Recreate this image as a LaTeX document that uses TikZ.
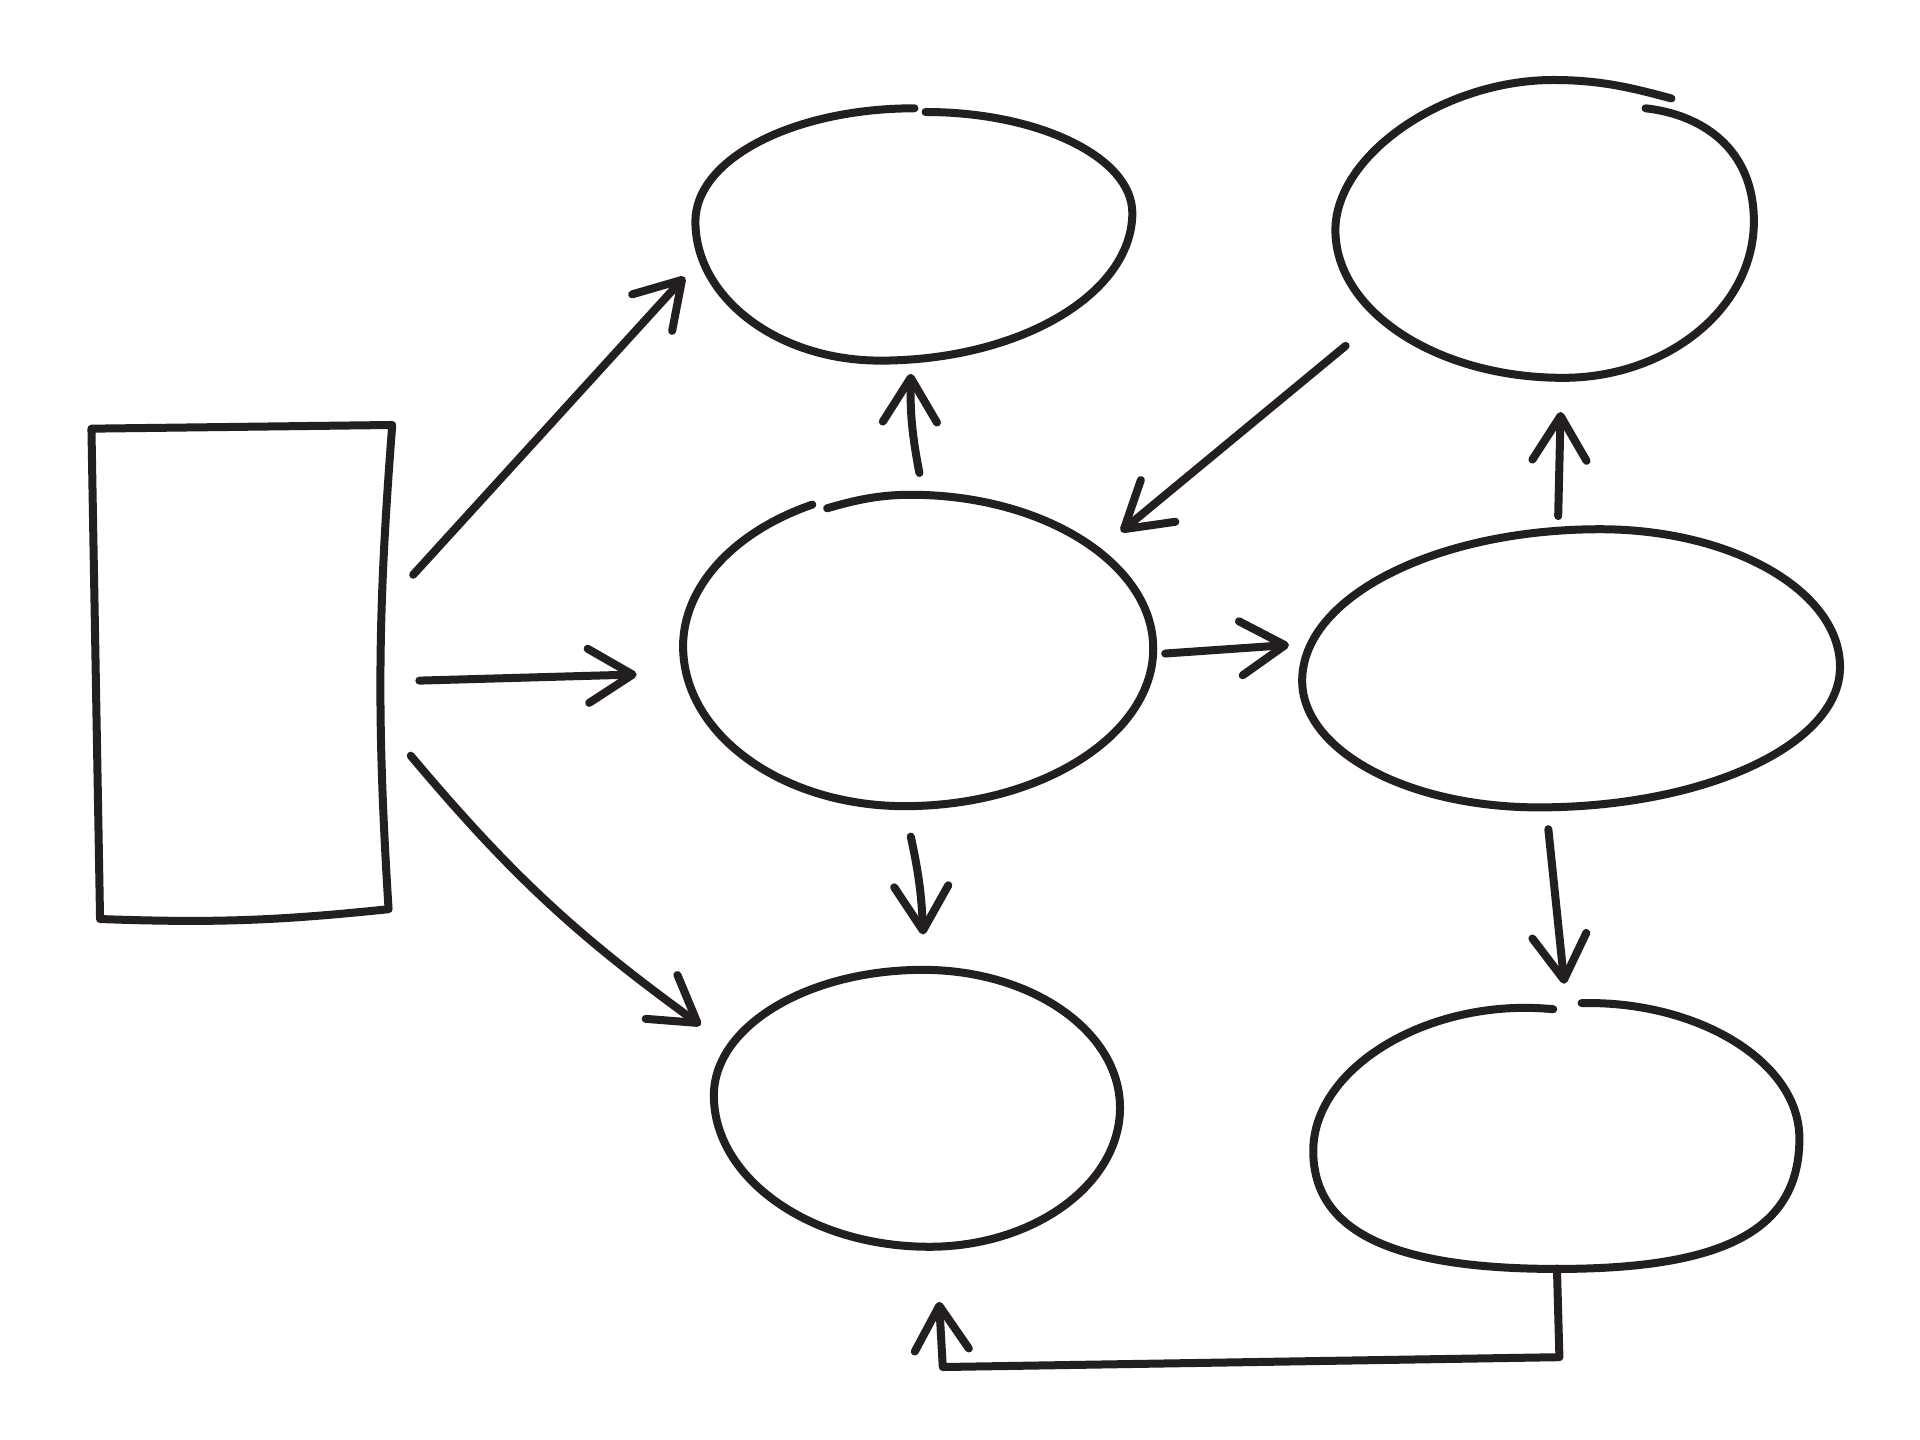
\documentclass[tikz,border=0pt]{standalone}
\usetikzlibrary{shapes.geometric,arrows.meta}
\definecolor{ink}{HTML}{231F20}
\tikzset{
  pen/.style  = {draw=ink, line width=1.85pt, line cap=round, line join=round},
  spot/.style = {ellipse, inner sep=0pt},
  arr/.style  = {pen, -{Straight Barb[length=3.6mm,width=4.4mm,round]}}
}

\begin{document}
\begin{tikzpicture}
  \path[fill=white] (0,0) rectangle (15.6,-11.7);
  \node[minimum width=2.43cm, minimum height=4cm, inner sep=0pt] (source) at (1.965,-5.46) {};
  \node[spot, minimum width=3.56cm, minimum height=2.10cm] (upper)  at (7.44,-1.90)    {};
  \node[spot, minimum width=3.82cm, minimum height=2.55cm] (hub)    at (7.46,-5.275)   {};
  \node[spot, minimum width=3.30cm, minimum height=2.22cm] (lower)  at (7.45,-9.01)    {};
  \node[spot, minimum width=3.45cm, minimum height=2.45cm] (corner) at (12.60,-1.875)  {};
  \node[spot, minimum width=4.37cm, minimum height=2.25cm] (outer)  at (12.765,-5.425) {};
  \node[spot, minimum width=3.94cm, minimum height=2.20cm] (back)   at (12.65,-9.20)   {};

  \draw[pen] ([yshift=-0.3mm]source.north west) -- (source.north east)
    to[bend right=4] ([shift={(-0.03,0.08)}]source.south east)
    to[bend left=4] ([xshift=0.7mm]source.south west) -- cycle;
  \draw[pen, shift={(upper.center)}] (-0.01,1.02)
    .. controls +(-0.98,0) and +(0,0.51) .. (-1.79,0.10)
    .. controls +(0,-0.62) and +(-0.83,0) .. (-0.29,-1.03)
    .. controls +(1.13,0) and +(0,-0.66) .. (1.76,0.17)
    .. controls +(0,0.45) and +(0.92,0) .. (0.08,0.99);
  \draw[pen, shift={(hub.center)}] (-0.74,1.145)
    .. controls +(0.24,0.07) and +(-0.25,0) .. (-0.06,1.255)
    .. controls +(1.08,0) and +(0,0.69) .. (1.91,0.005)
    .. controls +(0,-0.70) and +(1.11,0) .. (-0.11,-1.275)
    .. controls +(-0.99,0) and +(0,-0.72) .. (-1.91,0.025)
    .. controls +(0,0.48) and +(-0.64,-0.22) .. (-0.86,1.175);
  \draw[pen, shift={(lower.center)}] (0.05,1.13)
    .. controls +(0.88,0) and +(0,0.62) .. (1.65,0.01)
    .. controls +(0,-0.62) and +(0.85,0) .. (0.10,-1.12)
    .. controls +(-0.96,0) and +(0,-0.68) .. (-1.65,0.11)
    .. controls +(0,0.56) and +(-0.94,0) .. cycle;
  \draw[pen, shift={(corner.center)}] (0.77,0.995)
    .. controls +(0.45,-0.05) and +(0,0.60) .. (1.65,0.075)
    .. controls +(0,-0.70) and +(0.85,0) .. (0.10,-1.195)
    .. controls +(-1.02,0) and +(0,-0.66) .. (-1.75,0.005)
    .. controls +(0,0.61) and +(-0.89,0) .. (0.02,1.225)
    .. controls +(0.40,0) and +(-0.30,0.08) .. (0.98,1.075);
  \draw[pen, shift={(outer.center)}] (0.235,1.125)
    .. controls +(1.07,0) and +(0,0.62) .. (2.185,0.005)
    .. controls +(0,-0.63) and +(1.35,0) .. (-0.265,-1.135)
    .. controls +(-1.06,0) and +(0,-0.57) .. (-2.185,-0.105)
    .. controls +(0,0.68) and +(-1.33,0) .. cycle;
  \draw[pen, shift={(back.center)}] (0.20,1.05)
    .. controls +(0.95,0.02) and +(0,0.62) .. (1.97,-0.05)
    .. controls +(0,-0.75) and +(1.35,0) .. (0.00,-1.11)
    .. controls +(-1.35,0) and +(0,-0.65) .. (-1.98,-0.15)
    .. controls +(0,0.68) and +(-1.00,0.10) .. (-0.03,1.00);

  \draw[arr] ([shift={(0.17,0.79)}]source.east)   -- ([shift={(-0.09,-0.35)}]upper.west);
  \draw[arr] ([shift={(0.22,-0.07)}]source.east)  -- ([shift={(-0.37,-0.205)}]hub.west);
  \draw[arr] ([shift={(0.15,-0.68)}]source.east)  to[bend right=7] ([shift={(-0.10,0.68)}]lower.west);
  \draw[arr] ([shift={(0.01,0.15)}]hub.north)     to[bend left=6] ([shift={(-0.04,-0.08)}]upper.south);
  \draw[arr] ([shift={(-0.06,-0.24)}]hub.south)   to[bend left=5] ([shift={(0.05,0.30)}]lower.north);
  \draw[arr] ([shift={(0.065,-0.935)}]corner.west) -- ([shift={(-0.27,0.955)}]hub.east);
  \draw[arr] ([shift={(0.09,-0.035)}]hub.east)    -- ([shift={(-0.10,0.185)}]outer.west);
  \draw[arr] ([shift={(-0.105,0.10)}]outer.north) -- ([shift={(0.08,-0.24)}]corner.south);
  \draw[arr] ([shift={(-0.185,-0.18)}]outer.south) -- ([shift={(0.06,0.10)}]back.north);
  \draw[arr] (back.south) -- ++(0.02,-0.72) -- ([shift={(0.21,-0.98)}]lower.south)
    -- ([shift={(0.18,-0.45)}]lower.south);
\end{tikzpicture}
\end{document}
